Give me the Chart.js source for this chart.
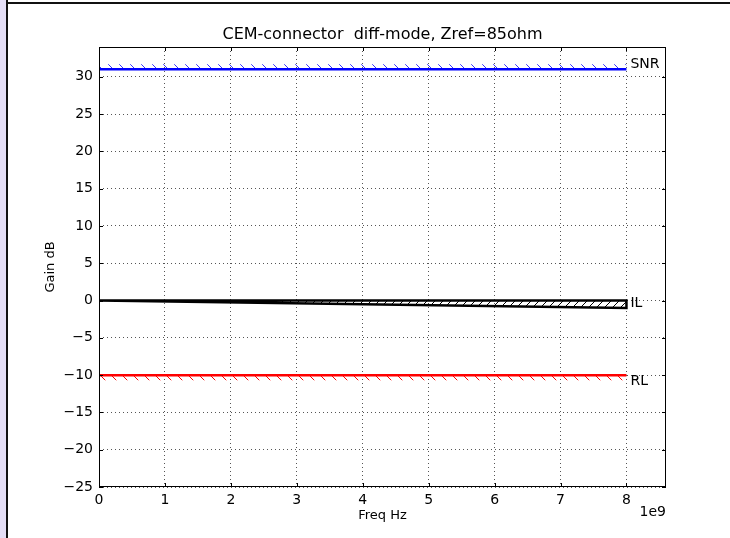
<!DOCTYPE html>
<html>
<head>
<meta charset="utf-8">
<script src="https://cdn.jsdelivr.net/npm/chart.js@4/dist/chart.umd.min.js"></script>
<style>
  html, body { margin: 0; padding: 0; background: #fff; }
  canvas { display: block; }
</style>
</head>
<body>
<canvas id="myChart" width="730" height="538"></canvas>
<script>
// frequency points (Hz) and limit levels (dB)
var freq = [0, 8e9];
var snr = [31, 31];
var snrHatchTop = [31.7, 31.7];
var rl = [-10, -10];
var rlHatchBottom = [-10.7, -10.7];
var ilFreq = [0, 8e9, 8e9, 0];
var ilGain = [0, 0, -1, 0];

var xTicks = [0, 1e9, 2e9, 3e9, 4e9, 5e9, 6e9, 7e9, 8e9];
var yTicks = [-25, -20, -15, -10, -5, 0, 5, 10, 15, 20, 25, 30];
var xMax = 8.6e9;
var yMin = -25, yMax = 34;

var seriesLabels = ["SNR", "IL", "RL"];
var labelValues = [31, -1, -10];
var labelBaselines = ["bottom", "bottom", "top"];

var FONT = "'DejaVu Sans', sans-serif";

function points(xs, ys) {
  return xs.map(function (x, i) { return { x: x, y: ys[i] }; });
}

// diagonal hatch tiles
function hatch(color, size, forward) {
  var c = document.createElement("canvas");
  c.width = size; c.height = size;
  var g = c.getContext("2d");
  g.strokeStyle = color;
  g.lineWidth = 1;
  g.beginPath();
  if (forward) {
    g.moveTo(-1, size + 1); g.lineTo(size + 1, -1);
  } else {
    g.moveTo(-1, -1); g.lineTo(size + 1, size + 1);
  }
  g.stroke();
  return g.createPattern(c, "repeat");
}

var minus = function (v) { return v < 0 ? "\u2212" + Math.abs(v) : String(v); };

var frame = {
  id: "frame",
  beforeDraw: function (chart) {
    var ctx = chart.ctx;
    ctx.save();
    ctx.fillStyle = "#e4def6";
    ctx.fillRect(0, 0, 6, 538);
    ctx.fillStyle = "#111";
    ctx.fillRect(6, 0, 2, 538);
    ctx.fillRect(6, 2, 724, 2);
    ctx.restore();
  },
  afterDraw: function (chart) {
    var ctx = chart.ctx, a = chart.chartArea;
    var xs = chart.scales.x, ys = chart.scales.y;
    ctx.save();
    // axes box
    ctx.strokeStyle = "#000";
    ctx.lineWidth = 1;
    ctx.strokeRect(a.left + 0.5, a.top + 0.5, a.right - a.left - 1, a.bottom - a.top - 1);
    // inward tick marks on all four sides
    ctx.beginPath();
    xTicks.forEach(function (t) {
      var px = Math.round(xs.getPixelForValue(t)) + 0.5;
      ctx.moveTo(px, a.bottom); ctx.lineTo(px, a.bottom - 4);
      ctx.moveTo(px, a.top); ctx.lineTo(px, a.top + 4);
    });
    yTicks.forEach(function (t) {
      var py = Math.round(ys.getPixelForValue(t)) + 0.5;
      ctx.moveTo(a.left, py); ctx.lineTo(a.left + 4, py);
      ctx.moveTo(a.right, py); ctx.lineTo(a.right - 4, py);
    });
    ctx.stroke();

    ctx.fillStyle = "#000";
    // title
    ctx.font = "16px " + FONT;
    ctx.textAlign = "center";
    ctx.textBaseline = "middle";
    ctx.fillText("CEM-connector  diff-mode, Zref=85ohm", (a.left + a.right) / 2, 35);
    // axis titles
    ctx.font = "13px " + FONT;
    ctx.fillText("Freq Hz", (a.left + a.right) / 2, 516);
    ctx.save();
    ctx.translate(51, (a.top + a.bottom) / 2);
    ctx.rotate(-Math.PI / 2);
    ctx.fillText("Gain dB", 0, 0);
    ctx.restore();
    // offset text
    ctx.font = "14px " + FONT;
    ctx.textAlign = "right";
    ctx.fillText("1e9", a.right, 512);
    // curve labels
    ctx.textAlign = "left";
    seriesLabels.forEach(function (s, i) {
      ctx.textBaseline = labelBaselines[i];
      ctx.fillText(s, xs.getPixelForValue(freq[1]) + 4, ys.getPixelForValue(labelValues[i]) + (labelBaselines[i] === "top" ? -1 : 2));
    });
    ctx.restore();
  }
};

var ctx = document.getElementById("myChart").getContext("2d");
var data = {
  datasets: [
    {
      label: "snr hatch",
      data: points(freq, snrHatchTop),
      borderColor: "rgba(0,0,0,0)",
      borderWidth: 0,
      pointRadius: 0,
      showLine: true,
      fill: false,
    },
    {
      label: "SNR",
      data: points(freq, snr),
      borderColor: "#0000ff",
      borderWidth: 2.5,
      pointRadius: 0,
      showLine: true,
      fill: 0,
      backgroundColor: hatch("#3333ff", 11, false),
    },
    {
      label: "rl hatch",
      data: points(freq, rlHatchBottom),
      borderColor: "rgba(0,0,0,0)",
      borderWidth: 0,
      pointRadius: 0,
      showLine: true,
      fill: false,
    },
    {
      label: "RL",
      data: points(freq, rl),
      borderColor: "#ff0000",
      borderWidth: 2.5,
      pointRadius: 0,
      showLine: true,
      fill: 2,
      backgroundColor: hatch("#ff0000", 11, false),
    },
    {
      label: "IL",
      data: points(ilFreq, ilGain),
      borderColor: "#000",
      borderWidth: 2.5,
      pointRadius: 0,
      showLine: true,
      fill: "shape",
      backgroundColor: hatch("#000", 8, true),
    },
  ],
};
var options = {
  responsive: false,
  animation: false,
  devicePixelRatio: 1,
  layout: { padding: { left: 8, right: 64, top: 47, bottom: 0 } },
  plugins: {
    legend: { display: false },
    tooltip: { enabled: false },
  },
  scales: {
    x: {
      type: "linear",
      min: 0,
      max: xMax,
      afterBuildTicks: function (s) { s.ticks = xTicks.map(function (v) { return { value: v }; }); },
      afterFit: function (s) { s.height = 51; },
      ticks: {
        color: "#000",
        font: { family: FONT, size: 14 },
        padding: 5,
        maxRotation: 0,
        callback: function (v) { return minus(v / 1e9); },
      },
      grid: { color: "#555", drawTicks: false, tickLength: 0 },
      border: { display: false, dash: [1, 3] },
    },
    y: {
      type: "linear",
      min: yMin,
      max: yMax,
      afterBuildTicks: function (s) { s.ticks = yTicks.map(function (v) { return { value: v }; }); },
      afterFit: function (s) { s.width = 91; },
      ticks: {
        color: "#000",
        font: { family: FONT, size: 14 },
        padding: 6,
        callback: function (v) { return minus(v); },
      },
      grid: { color: "#555", drawTicks: false, tickLength: 0 },
      border: { display: false, dash: [1, 3] },
    },
  },
};
var myChart = new Chart(ctx, {
  type: "scatter",
  data: data,
  options: options,
  plugins: [frame],
});
</script>
</body>
</html>
